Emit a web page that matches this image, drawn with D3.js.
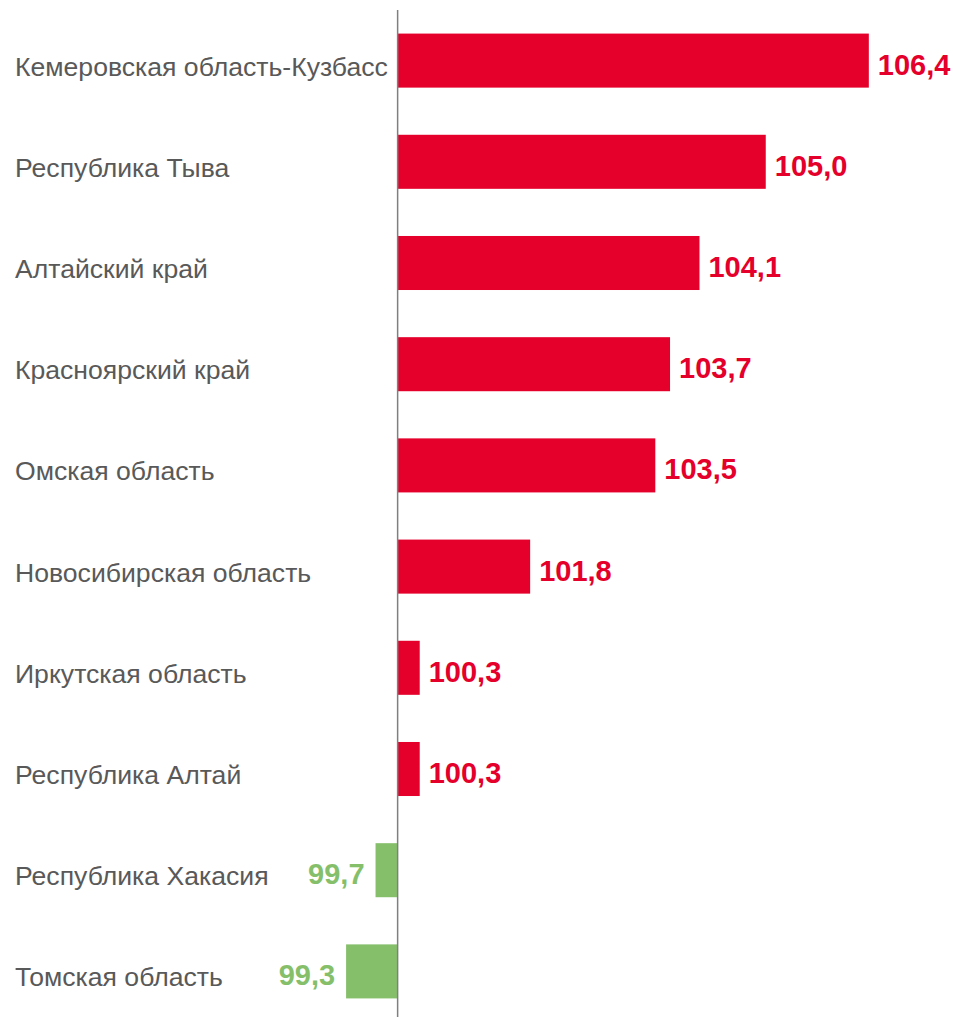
<!DOCTYPE html>
<html><head><meta charset="utf-8">
<script src="https://cdn.jsdelivr.net/npm/d3@7"></script>
<style>html,body{margin:0;padding:0;background:#fff;}svg{display:block;}</style>
</head><body>
<svg id="chart" width="953" height="1017"></svg>
<script>
const categories = ["Кемеровская область-Кузбасс","Республика Тыва","Алтайский край","Красноярский край","Омская область","Новосибирская область","Иркутская область","Республика Алтай","Республика Хакасия","Томская область"];
const values = [106.4,105.0,104.1,103.7,103.5,101.8,100.3,100.3,99.7,99.3];
const baseline = 100;

const svg = d3.select("#chart");
const font = "'Liberation Sans', Arial, sans-serif";
const red = "#E4002B", green = "#86BF6A";

const y = d3.scaleBand().domain(categories).range([10, 1022]).paddingInner(0.466).paddingOuter(0.233);
const x = d3.scaleLinear().domain([99, 107]).range([324, 913]);

const data = categories.map((c, i) => ({c, v: values[i]}));

svg.selectAll("rect.bar").data(data).enter().append("rect")
  .attr("class", "bar")
  .attr("x", d => Math.min(x(d.v), x(baseline)))
  .attr("width", d => Math.abs(x(d.v) - x(baseline)))
  .attr("y", d => y(d.c))
  .attr("height", y.bandwidth())
  .attr("fill", d => d.v >= baseline ? red : green);

// axis line
svg.append("line").attr("x1", x(baseline)).attr("x2", x(baseline)).attr("y1", 10).attr("y2", 1017)
  .attr("stroke", "#7f7f7f").attr("stroke-width", 1.5);

// category labels
svg.selectAll("text.cat").data(data).enter().append("text")
  .attr("class", "cat")
  .attr("x", 15)
  .attr("y", d => y(d.c) + y.bandwidth() / 2 + 15)
  .attr("font-family", font).attr("font-size", 26.6).attr("fill", "#595959")
  .text(d => d.c);

// value labels
const fmt = v => v.toFixed(1).replace(".", ",");
svg.selectAll("text.val").data(data).enter().append("text")
  .attr("class", "val")
  .attr("x", d => d.v >= baseline ? x(d.v) + 9 : x(d.v) - 11)
  .attr("y", d => y(d.c) + y.bandwidth() / 2 + 14)
  .attr("text-anchor", d => d.v >= baseline ? "start" : "end")
  .attr("font-family", font).attr("font-size", 29).attr("font-weight", "bold")
  .attr("fill", d => d.v >= baseline ? red : green)
  .text(d => fmt(d.v));
</script>
</body></html>
